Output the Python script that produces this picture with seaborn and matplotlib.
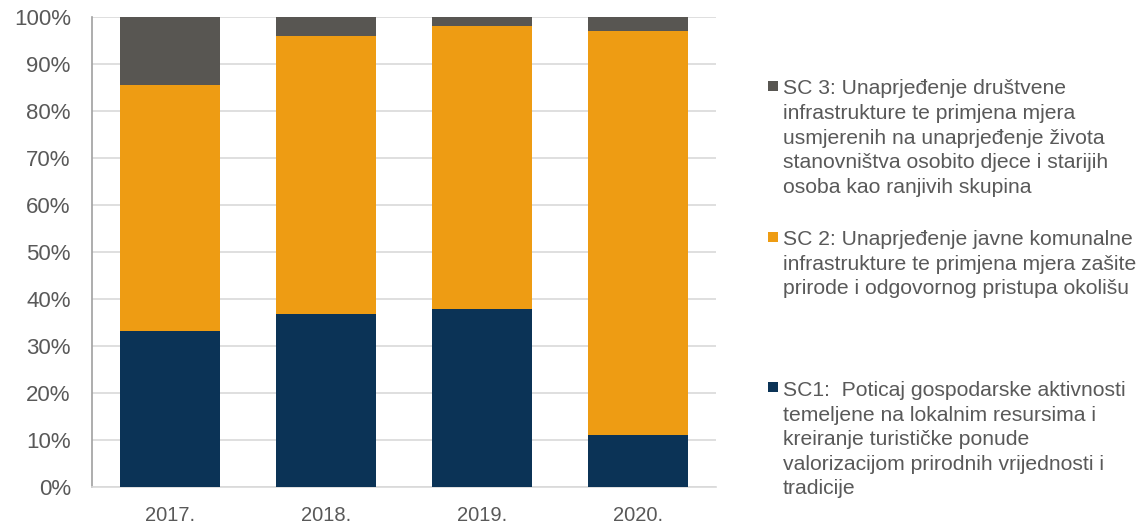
import matplotlib
matplotlib.use("Agg")
import matplotlib.pyplot as plt
import seaborn as sns
import pandas as pd
from matplotlib.patches import Rectangle

years = ["2017.", "2018.", "2019.", "2020."]
sc1 = [33.2, 36.7, 37.8, 11.0]
sc2 = [52.4, 59.4, 60.3, 86.1]
sc3 = [14.4, 3.9, 1.9, 2.9]
yticks = [0, 10, 20, 30, 40, 50, 60, 70, 80, 90, 100]
ytick_labels = [f"{v}%" for v in yticks]

legend_labels = [
    ["SC 3: Unaprjeđenje društvene", "infrastrukture te primjena mjera",
     "usmjerenih na unaprjeđenje života", "stanovništva osobito djece i starijih",
     "osoba kao ranjivih skupina"],
    ["SC 2: Unaprjeđenje javne komunalne", "infrastrukture te primjena mjera zašite",
     "prirode i odgovornog pristupa okolišu"],
    ["SC1:  Poticaj gospodarske aktivnosti", "temeljene na lokalnim resursima i",
     "kreiranje turističke ponude", "valorizacijom prirodnih vrijednosti i",
     "tradicije"],
]

c1, c2, c3 = "#0B3356", "#EE9C13", "#585652"
txt = "#595959"

sns.set_theme(style="white")
plt.rcParams['font.family'] = ['Liberation Sans', 'DejaVu Sans']

df = pd.DataFrame({"year": years, "sc1": sc1, "sc2": sc2, "sc3": sc3})
df["t1"] = df["sc1"]
df["t2"] = df["sc1"] + df["sc2"]
df["t3"] = df["t2"] + df["sc3"]

W, H = 1144, 530
fig = plt.figure(figsize=(W / 100, H / 100), dpi=100)
ax = fig.add_axes([91.7 / W, 43.3 / H, 624 / W, 469.4 / H])

for col, color in [("t3", c3), ("t2", c2), ("t1", c1)]:
    sns.barplot(data=df, x="year", y=col, color=color, width=0.64,
                saturation=1, ax=ax, zorder=3, edgecolor="none")

ax.set_xlim(-0.5, 3.5)
ax.set_ylim(0, 100)
ax.set_yticks(yticks)
ax.set_yticklabels(ytick_labels)
ax.set_xlabel("")
ax.set_ylabel("")
ax.grid(axis="y", color="#D9D9D9", linewidth=1.2, zorder=0)
ax.set_axisbelow(True)
for s in ["top", "right"]:
    ax.spines[s].set_visible(False)
ax.spines["left"].set_color("#A0A0A0")
ax.spines["left"].set_linewidth(1.2)
ax.spines["bottom"].set_color("#D9D9D9")
ax.spines["bottom"].set_linewidth(1.2)
ax.tick_params(axis="y", length=0, pad=15, labelsize=16, labelcolor=txt)
ax.tick_params(axis="x", length=0, pad=14, labelsize=14.5, labelcolor=txt)

# legend (manual, uneven spacing as in reference)
colors = [c3, c2, c1]
baselines = [94.3, 245.0, 396.0]
sq_tops = [80.7, 232.3, 382.3]
for lines, col, b0, st in zip(legend_labels, colors, baselines, sq_tops):
    fig.patches.append(Rectangle((767.7 / W, 1 - (st + 10) / H), 10 / W, 10 / H,
                                 transform=fig.transFigure, facecolor=col,
                                 edgecolor="none"))
    for i, line in enumerate(lines):
        fig.text(782.7 / W, 1 - (b0 + i * 24.6) / H, line, fontsize=15.2,
                 color=txt, va="baseline", ha="left")

fig.savefig("out.png", dpi=100)
